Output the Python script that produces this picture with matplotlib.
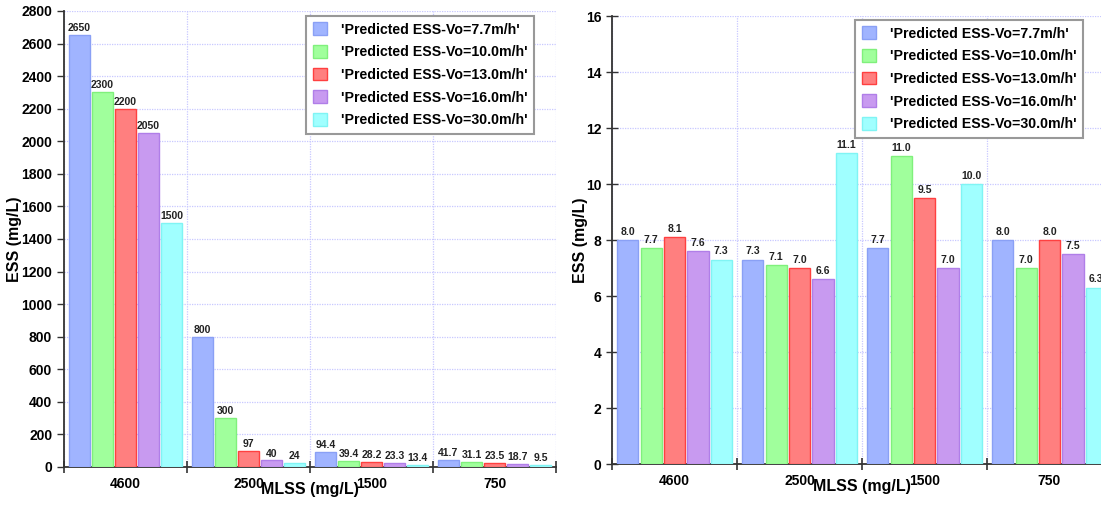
import numpy as np
import matplotlib
matplotlib.use("Agg")
import matplotlib.pyplot as plt
from matplotlib.ticker import FixedLocator, NullFormatter

plt.rcParams['font.family'] = ['Liberation Sans Narrow', 'Liberation Sans', 'DejaVu Sans']
plt.rcParams['font.weight'] = 'bold'

mlss = ['4600', '2500', '1500', '750']
series = ["'Predicted ESS-Vo=7.7m/h'", "'Predicted ESS-Vo=10.0m/h'",
          "'Predicted ESS-Vo=13.0m/h'", "'Predicted ESS-Vo=16.0m/h'",
          "'Predicted ESS-Vo=30.0m/h'"]

# left panel: ESS per MLSS group, one list per settling velocity
left_v77 = [2650, 800, 94.4, 41.7]
left_v10 = [2300, 300, 39.4, 31.1]
left_v13 = [2200, 97, 28.2, 23.5]
left_v16 = [2050, 40, 23.3, 18.7]
left_v30 = [1500, 24, 13.4, 9.5]

# right panel
right_v77 = [8.0, 7.3, 7.7, 8.0]
right_v10 = [7.7, 7.1, 11.0, 7.0]
right_v13 = [8.1, 7.0, 9.5, 8.0]
right_v16 = [7.6, 6.6, 7.0, 7.5]
right_v30 = [7.3, 11.1, 10.0, 6.3]

face = ['#a0b4ff', '#a0ff9c', '#ff7f7f', '#c89af0', '#a0ffff']
edge = ['#8aa0f5', '#80f07c', '#ff4040', '#b07ee8', '#80f4f4']


def fmt_left(v):
    return '%d' % v if float(v).is_integer() else '%.1f' % v


def fmt_right(v):
    return '%.1f' % v


def draw_panel(ax, data, ymax, ystep, fmt, lab_off):
    x = np.arange(len(mlss))
    w = 0.17
    pitch = 0.187
    for i, vals in enumerate(data):
        pos = x + (i - 2) * pitch
        ax.bar(pos, vals, w, color=face[i], edgecolor=edge[i], linewidth=1.0,
               label=series[i], zorder=3)
        for px, v in zip(pos, vals):
            ax.text(px, v + lab_off, fmt(v), ha='center', va='bottom',
                    fontsize=7.5, fontweight='bold', color='#222222', zorder=4)
    ax.set_xlim(-0.5, 3.5)
    ax.set_ylim(0, ymax)
    ax.set_yticks(np.arange(0, ymax + ystep / 2, ystep))
    ax.xaxis.set_major_locator(FixedLocator([-0.5, 0.5, 1.5, 2.5, 3.5]))
    ax.xaxis.set_major_formatter(NullFormatter())
    ax.xaxis.set_minor_locator(FixedLocator(x))
    ax.set_xticklabels(mlss, minor=True)
    ax.tick_params(axis='x', which='minor', length=0, pad=7, labelsize=10)
    ax.tick_params(axis='x', which='major', direction='inout', length=8, width=1.2, color='#333333')
    ax.tick_params(axis='y', length=5, width=1.0, labelsize=10, color='#333333')
    for t in ax.get_xticklabels(minor=True) + ax.get_yticklabels():
        t.set_fontweight('bold')
    ax.grid(True, which='major', color='#c8c8ff', linestyle=(0, (1, 1)), linewidth=0.9, zorder=0)
    ax.set_axisbelow(True)
    for s in ['top', 'right']:
        ax.spines[s].set_visible(False)
    ax.spines['left'].set_color('#333333')
    ax.spines['bottom'].set_color('#333333')
    ax.spines['left'].set_linewidth(1.3)
    ax.spines['bottom'].set_linewidth(1.3)
    ax.set_xlabel('MLSS (mg/L)', fontsize=11.5, fontweight='bold', labelpad=-6)
    ax.set_ylabel('ESS (mg/L)', fontsize=11.5, fontweight='bold')


fig = plt.figure(figsize=(11.01, 5.05), dpi=100)

W, H = 1101.0, 505.0
ax1 = fig.add_axes([64 / W, (H - 467) / H, 492 / W, 456 / H])
ax2 = fig.add_axes([612 / W, (H - 464) / H, 500 / W, 448 / H])

draw_panel(ax1, [left_v77, left_v10, left_v13, left_v16, left_v30], 2800, 200, fmt_left, 12)
draw_panel(ax2, [right_v77, right_v10, right_v13, right_v16, right_v30], 16, 2, fmt_right, 0.12)

ax1.tick_params(axis='y', direction='out')
ax2.tick_params(axis='y', direction='inout', length=8)

ax1.yaxis.set_label_coords(-0.085, 0.5)
ax2.yaxis.set_label_coords(-0.048, 0.5)

for ax, anchor in [(ax1, (0.955, 0.989)), (ax2, (0.942, 0.991))]:
    leg = ax.legend(loc='upper right', bbox_to_anchor=anchor, fontsize=10.2,
                    handlelength=1.0, handleheight=1.0, fancybox=False,
                    framealpha=1, edgecolor='#999999', borderpad=0.45,
                    labelspacing=0.6, handletextpad=1.0, borderaxespad=0)
    leg.get_frame().set_linewidth(1.5)
    for t in leg.get_texts():
        t.set_fontweight('bold')

fig.savefig('out.png', dpi=100)
plt.close(fig)
